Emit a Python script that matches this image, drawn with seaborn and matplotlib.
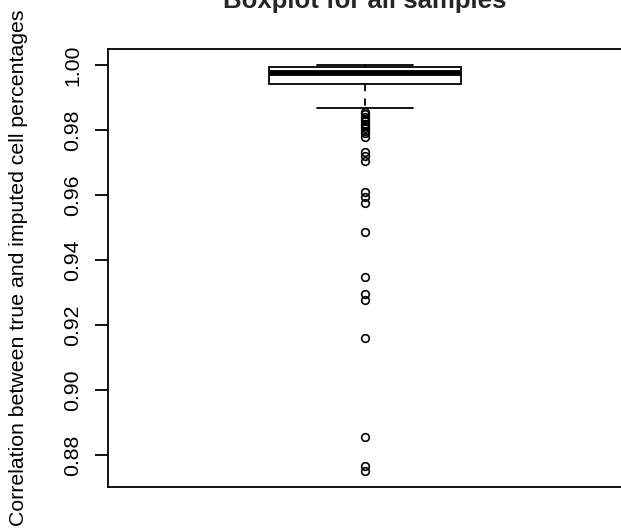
import numpy as np
import pandas as pd
import matplotlib
matplotlib.use("Agg")
import matplotlib.pyplot as plt
import seaborn as sns

title = "Boxplot for all samples"
ylabel = "Correlation between true and imputed cell percentages"
yticks = [0.88, 0.90, 0.92, 0.94, 0.96, 0.98, 1.00]
ytick_labels = ["0.88", "0.90", "0.92", "0.94", "0.96", "0.98", "1.00"]

# Box summary: lower whisker, Q1, median, Q3, max,
# and how many samples sit at each level (so that the quartiles land there)
box_values = [0.98667, 0.99418, 0.99752, 0.99936, 0.99991]
box_counts = [2, 27, 27, 27, 1]

# Outlying samples (open circles)
outliers = [0.98550, 0.98489, 0.98412, 0.98335, 0.98274, 0.98197, 0.98121,
            0.98059, 0.97983, 0.97906, 0.97799,
            0.97314, 0.97201, 0.97057,
            0.96106, 0.95953, 0.95750,
            0.94861, 0.93481, 0.92969, 0.92785, 0.91611,
            0.88545, 0.87674, 0.87520]

corr = np.concatenate([np.repeat(box_values, box_counts), outliers])
df = pd.DataFrame({"corr": corr})

sns.set_style("white")
plt.rcParams["font.family"] = ["Liberation Sans", "DejaVu Sans"]

fig = plt.figure(figsize=(6.21, 5.28), dpi=100)
ax = fig.add_axes([108 / 621, 1 - 487 / 528, 514 / 621, 438 / 528])

lw = 1.3
sns.boxplot(
    data=df, y="corr", ax=ax, width=0.403, color="white", linecolor="black",
    linewidth=lw, whis=1.5, saturation=1,
    medianprops=dict(linewidth=4.2, color="black"),
    whiskerprops=dict(linestyle=(0, (4, 4)), linewidth=lw, color="black"),
    capprops=dict(linewidth=lw, color="black"),
    boxprops=dict(linewidth=lw, edgecolor="black", facecolor="white"),
    flierprops=dict(marker="o", markerfacecolor="none", markeredgecolor="black",
                    markersize=5.5, markeredgewidth=1.2),
)

ax.set_xlim(-0.54, 0.54)
ax.set_ylim(0.87021, 1.0049)
ax.set_xticks([])
ax.set_xlabel("")
ax.set_yticks(yticks)
ax.set_yticklabels(ytick_labels)
ax.tick_params(axis="y", direction="out", length=9.4, width=lw, pad=9.0,
               labelsize=15.3, colors="black", left=True)
plt.setp(ax.get_yticklabels(), rotation=90, va="center")
for s in ax.spines.values():
    s.set_visible(True)
    s.set_color("black")
    s.set_linewidth(lw)

ax.set_ylabel(ylabel, fontsize=15.3, color="black")
ax.yaxis.set_label_coords(-0.155, 0.5)
ax.set_title(title, fontsize=18.5, fontweight="bold", pad=29.5)

fig.savefig("out.png", dpi=100)
